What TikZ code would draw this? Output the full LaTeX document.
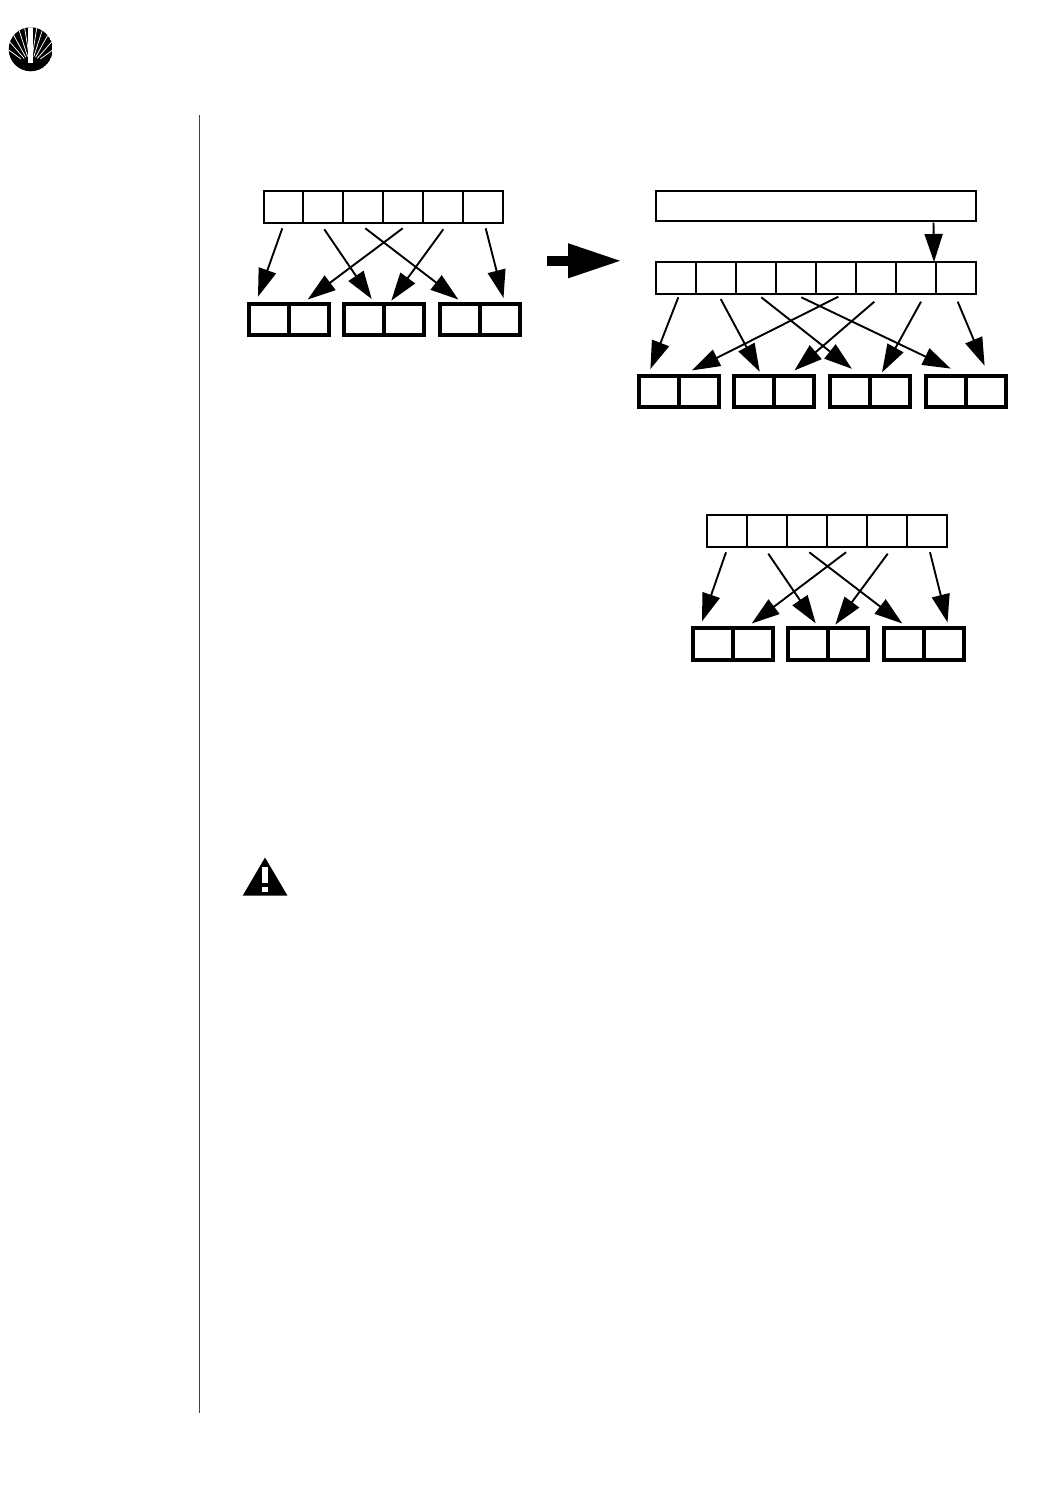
\documentclass[tikz,border=0pt]{standalone}
\usetikzlibrary{arrows.meta}
\tikzset{
  cell/.style={draw=black,line width=2pt,fill=white,rectangle,inner sep=0pt,outer sep=0pt,minimum width=#1,minimum height=32pt},
  cell/.default=40pt,
  slotbox/.style={draw=black,line width=4pt,fill=white,rectangle,inner sep=0pt,outer sep=0pt,minimum width=40pt,minimum height=31.4pt},
  banner/.style={draw=black,line width=2pt,fill=white,rectangle,inner sep=0pt,outer sep=0pt,minimum width=320pt,minimum height=29.5pt},
  arr/.style={draw=black,line width=1.9pt,-{Triangle[length=28pt,width=18pt]}},
  bigarr/.style={draw=black,line width=10pt,-{Triangle[length=54pt,width=32pt]}},
  rule/.style={draw=black!75,line width=1pt},
  ray/.style={draw=white,line width=0.75pt},
}
\begin{document}
\begin{tikzpicture}[x=1pt,y=-1pt]
\useasboundingbox[fill=white] (0,0) rectangle (1045,1491);
% page rule
\coordinate (rt) at (199,115); \coordinate (rb) at (199,1413);
\draw[rule] (rt) -- (rb);
% logo
\begin{scope}
  \clip (30.7,49.3) circle (22);
  \fill[black] (30.7,49.3) circle (22);
  \foreach \a/\r in {9/10,-9/10,18/10,-18/10,29/10,-29/10,41/10,-41/10,54/12,-54/12}{
    \draw[ray] (30.7,66) ++({\a+90}:-\r) -- ++({\a+90}:-40);
  }
  \fill[white] (28.3,20) rectangle (32.7,63);
\end{scope}
% group 1
\foreach \i in {0,...,5}{
  \node[cell] (a\i) at ({283.5+39.9*\i},206.7) {};
}
\foreach \n/\x in {0/269.2,1/309.2,2/364.3,3/404.3,4/460.2,5/500.2}{
  \node[slotbox] (b\n) at (\x,319.7) {};
}
\foreach \n/\sx/\sy/\ex/\ey in {
  1/282.3/228.3/258/296.7, 2/324.3/229.3/371.7/299, 3/402.7/228.3/307.7/299.5,
  4/365.3/228.3/458.3/299.5, 5/443.3/229.3/391.3/300.6, 6/485.7/228.3/503.5/298}{
  \coordinate (as\n) at (\sx,\sy); \coordinate (ae\n) at (\ex,\ey);
  \draw[arr] (as\n) -- (ae\n);
}
% big arrow
\coordinate (bigs) at (547,260.8); \coordinate (bige) at (622,260.8);
\draw[bigarr] (bigs) -- (bige);
% group 2
\node[banner] (top) at (816,205.8) {};
\foreach \i in {0,...,7}{
  \node[cell] (c\i) at ({676+40*\i},278) {};
}
\foreach \n/\x in {0/659,1/699,2/754,3/794,4/850,5/890,6/946,7/986}{
  \node[slotbox] (d\n) at (\x,391.7) {};
}
\coordinate (ts) at (933.5,222.7); \coordinate (te) at (934,262);
\draw[arr] (ts) -- (te);
\foreach \n/\sx/\sy/\ex/\ey in {
  1/678.3/297.3/650.4/369, 2/720.7/299/759.7/371.7, 3/761.3/297.3/851.9/368.8,
  4/838.3/296.7/692/370.4, 5/801.3/297.3/950.7/368.6, 6/874.3/301.7/794.5/370.4,
  7/921/301.7/882/372.4, 8/957.7/301.7/984.6/365.7}{
  \coordinate (cs\n) at (\sx,\sy); \coordinate (ce\n) at (\ex,\ey);
  \draw[arr] (cs\n) -- (ce\n);
}
% group 3
\foreach \i in {0,...,5}{
  \node[cell] (e\i) at ({727.3+39.95*\i},531) {};
}
\foreach \n/\x in {0/713,1/753.2,2/808,3/848,4/904,5/944}{
  \node[slotbox] (f\n) at (\x,643.9) {};
}
\foreach \n/\sx/\sy/\ex/\ey in {
  1/726/552.3/702/621.4, 2/768.3/553.7/815.7/623.3, 3/846/552.3/751.7/623.5,
  4/809.3/552.3/902.3/623.5, 5/887.7/553.7/835.3/624.6, 6/930/552.3/947.5/622.4}{
  \coordinate (es\n) at (\sx,\sy); \coordinate (ee\n) at (\ex,\ey);
  \draw[arr] (es\n) -- (ee\n);
}
% warning sign
\fill[black] (265,857.5) -- (287.5,895.7) -- (242.7,895.7) -- cycle;
\fill[white] (262.2,866.7) rectangle (268.3,882.7);
\fill[white] (262.2,886.7) rectangle (268.3,891.7);
\end{tikzpicture}
\end{document}
